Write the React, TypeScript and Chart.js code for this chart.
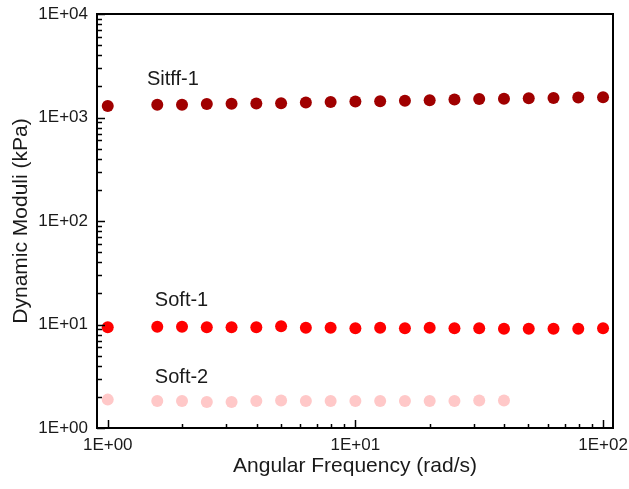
import { useEffect, useRef } from 'react';
import { Chart, registerables } from 'chart.js';

Chart.register(...registerables);

// Angular frequency (rad/s)
const frequencies = [1, 1.585, 1.995, 2.512, 3.162, 3.981, 5.012, 6.31, 7.943, 10, 12.59, 15.85, 19.95, 25.12, 31.62, 39.81, 50.12, 63.1, 79.43, 100];
// Dynamic moduli (kPa)
const stiff1 = [1290, 1330, 1330, 1350, 1355, 1365, 1375, 1395, 1415, 1425, 1435, 1455, 1465, 1490, 1510, 1520, 1535, 1545, 1560, 1570];
const soft1 = [9.4, 9.5, 9.5, 9.4, 9.4, 9.4, 9.6, 9.3, 9.3, 9.2, 9.3, 9.2, 9.3, 9.2, 9.2, 9.1, 9.1, 9.1, 9.1, 9.2];
const soft2 = [1.88, 1.82, 1.82, 1.78, 1.78, 1.82, 1.84, 1.82, 1.82, 1.82, 1.82, 1.82, 1.82, 1.82, 1.84, 1.84];

const seriesNames = ['Sitff-1', 'Soft-1', 'Soft-2'];
const seriesColors = ['#a00000', '#ff0000', '#ffc8c8'];

const xTickValues = [1, 10, 100];
const yTickValues = [1, 10, 100, 1000, 10000];

const FONT = "'Liberation Sans', Arial, sans-serif";
const TEXT = '#1a1a1a';

// annotation anchors in data space (left edge, vertical middle)
const annotations = [
  { text: seriesNames[0], x: 1.44, y: 2330 },
  { text: seriesNames[1], x: 1.55, y: 17.2 },
  { text: seriesNames[2], x: 1.55, y: 3.05 },
];

const fmtExp = (v: number) => {
  const e = Math.round(Math.log10(v));
  return '1E+' + String(e).padStart(2, '0');
};

const framePlugin = {
  id: 'frameTicks',
  afterDatasetsDraw(chart: any) {
    const { ctx, chartArea } = chart;
    const xs = chart.scales.x;
    const ys = chart.scales.y;
    ctx.save();
    ctx.strokeStyle = '#000';
    ctx.lineWidth = 1.5;
    for (let d = 1; d <= 10000; d *= 10) {
      for (let m = 1; m <= 9; m++) {
        const v = d * m;
        if (v > 10000) break;
        const y = Math.round(ys.getPixelForValue(v)) + 0.5;
        const len = m === 1 ? 8 : 5;
        ctx.beginPath();
        ctx.moveTo(chartArea.left, y);
        ctx.lineTo(chartArea.left + len, y);
        ctx.stroke();
      }
    }
    for (let d = 0.1; d <= 100; d *= 10) {
      for (let m = 1; m <= 9; m++) {
        const v = d * m;
        if (v < xs.min || v > xs.max) continue;
        const x = Math.round(xs.getPixelForValue(v)) + 0.5;
        const len = m === 1 ? 8 : 4;
        ctx.beginPath();
        ctx.moveTo(x, chartArea.bottom);
        ctx.lineTo(x, chartArea.bottom - len);
        ctx.stroke();
      }
    }
    ctx.lineWidth = 2;
    ctx.strokeRect(chartArea.left, chartArea.top, chartArea.right - chartArea.left, chartArea.bottom - chartArea.top);
    ctx.fillStyle = TEXT;
    ctx.font = `20px ${FONT}`;
    ctx.textAlign = 'left';
    ctx.textBaseline = 'middle';
    for (const a of annotations) {
      ctx.fillText(a.text, xs.getPixelForValue(a.x), ys.getPixelForValue(a.y));
    }
    ctx.restore();
  },
};

export default function App() {
  const ref = useRef<HTMLCanvasElement | null>(null);
  useEffect(() => {
    document.body.style.margin = '0';
    const canvas = ref.current!;
    const mk = (vals: number[], i: number) => ({
      label: seriesNames[i],
      data: vals.map((v, k) => ({ x: frequencies[k], y: v })),
      showLine: false,
      pointRadius: 6,
      pointHoverRadius: 6,
      pointBackgroundColor: seriesColors[i],
      pointBorderColor: seriesColors[i],
      pointBorderWidth: 0,
      backgroundColor: seriesColors[i],
      borderColor: seriesColors[i],
      clip: false as any,
    });
    const chart = new Chart(canvas, {
      type: 'scatter',
      data: { datasets: [mk(stiff1, 0), mk(soft1, 1), mk(soft2, 2)] },
      options: {
        responsive: false,
        animation: false,
        layout: { padding: { top: 14, right: 16, left: 0, bottom: 0 } },
        plugins: { legend: { display: false }, tooltip: { enabled: false } },
        scales: {
          x: {
            type: 'logarithmic',
            min: 0.905,
            max: 109.7,
            grid: { display: false, drawTicks: false },
            border: { display: false },
            afterBuildTicks: (s: any) => { s.ticks = xTickValues.map((v) => ({ value: v, major: true })); },
            afterFit: (s: any) => { s.height = 61; s.paddingLeft = 0; s.paddingRight = 0; },
            ticks: {
              autoSkip: false,
              maxRotation: 0,
              padding: 7,
              color: TEXT,
              font: { family: FONT, size: 17 },
              callback: (v: any) => fmtExp(Number(v)),
            },
            title: {
              display: true,
              text: 'Angular Frequency (rad/s)',
              color: TEXT,
              font: { family: FONT, size: 21 },
              padding: { top: 0, bottom: 10 },
            },
          },
          y: {
            type: 'logarithmic',
            min: 1,
            max: 10000,
            grid: { display: false, drawTicks: false },
            border: { display: false },
            afterBuildTicks: (s: any) => { s.ticks = yTickValues.map((v) => ({ value: v, major: true })); },
            afterFit: (s: any) => { s.width = 97; s.paddingTop = 0; s.paddingBottom = 0; },
            ticks: {
              autoSkip: false,
              padding: 9,
              color: TEXT,
              font: { family: FONT, size: 17 },
              callback: (v: any) => fmtExp(Number(v)),
            },
            title: {
              display: true,
              text: 'Dynamic Moduli (kPa)',
              color: TEXT,
              font: { family: FONT, size: 21 },
              padding: { top: 9, bottom: 0 },
            },
          },
        },
      },
      plugins: [framePlugin],
    });
    return () => chart.destroy();
  }, []);
  return (
    <div style={{ position: 'absolute', left: 0, top: 0, width: 629, height: 489, background: '#fff' }}>
      <canvas ref={ref} width={629} height={489} />
    </div>
  );
}
